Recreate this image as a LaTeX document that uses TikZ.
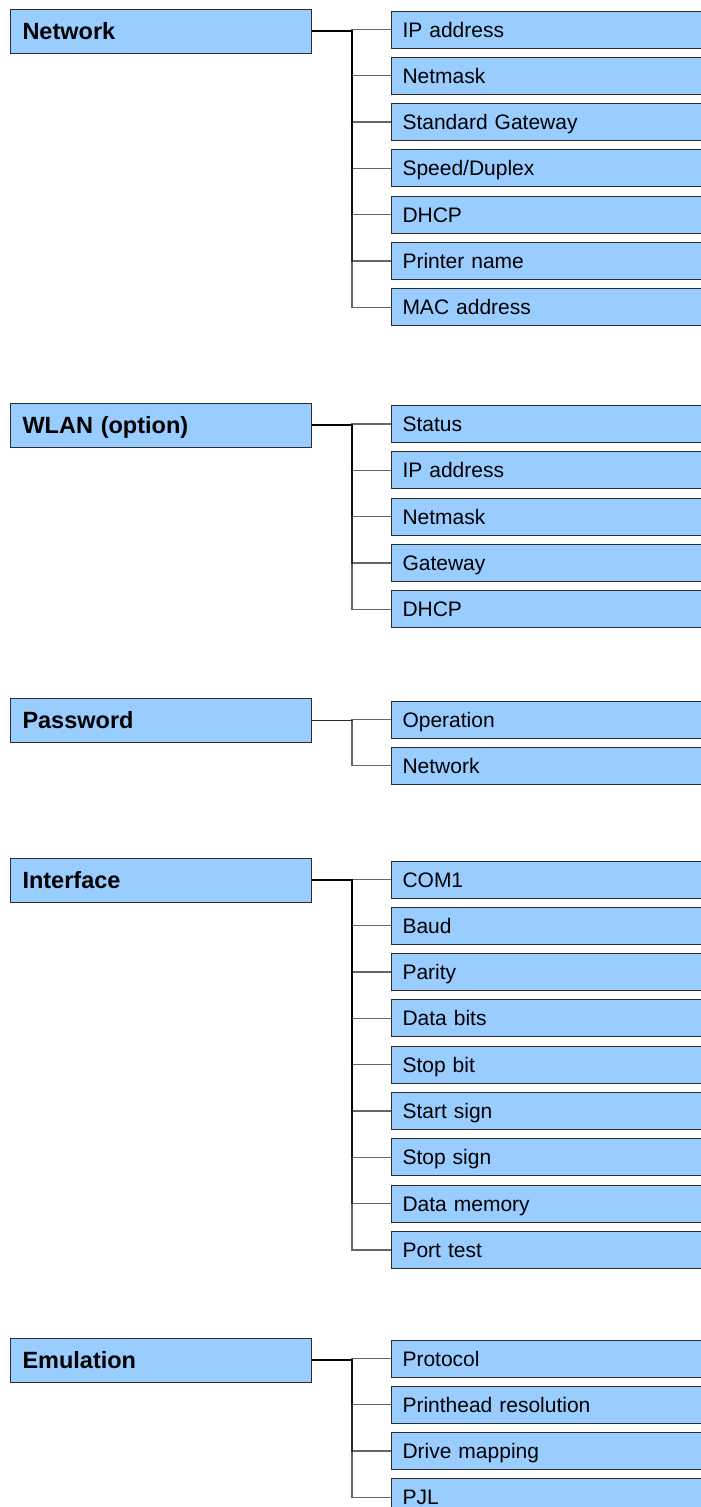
\documentclass[tikz,border=0pt]{standalone}
\usepackage{fontspec}
\setmainfont{Liberation Sans}
\usepackage{tikz}
\definecolor{menublue}{RGB}{153,204,255}
\definecolor{menuedge}{RGB}{45,45,45}

\begin{document}
\begin{tikzpicture}[x=1pt,y=-1pt,
        parentbox/.style={draw=menuedge,fill=menublue,line width=1pt,anchor=west,
            minimum height=44pt,text width=277pt,inner xsep=12pt,align=left,
            text height=19pt,text depth=2.2pt,
            font=\fontsize{23.5}{26}\selectfont\bfseries},
        childbox/.style={draw=menuedge,fill=menublue,line width=1pt,anchor=west,
            minimum height=37pt,text width=310pt,inner xsep=11pt,align=left,
            text height=18pt,text depth=3pt,
            font=\fontsize{21}{24}\selectfont},
        link/.style={draw=black,draw opacity=.6,line width=1.3pt}]
        \useasboundingbox (0,0) rectangle (701,1507);

        % Network
        \node[parentbox] (net) at (10,31) {Network};
        \node[childbox] (net1) at (391,29.5) {IP address};
        \node[childbox] (net2) at (391,75.8) {Netmask};
        \node[childbox] (net3) at (391,122.1) {Standard Gateway};
        \node[childbox] (net4) at (391,168.4) {Speed/Duplex};
        \node[childbox] (net5) at (391,214.7) {DHCP};
        \node[childbox] (net6) at (391,261) {Printer name};
        \node[childbox] (net7) at (391,307.3) {MAC address};
        \foreach \i in {1,...,7}
            \draw[link] (net.east) -- ++(40,0) |- (net\i.west);

        % WLAN
        \node[parentbox] (wlan) at (10,425) {WLAN (option)};
        \node[childbox] (wlan1) at (391,424) {Status};
        \node[childbox] (wlan2) at (391,470.3) {IP address};
        \node[childbox] (wlan3) at (391,516.6) {Netmask};
        \node[childbox] (wlan4) at (391,562.9) {Gateway};
        \node[childbox] (wlan5) at (391,609.2) {DHCP};
        \foreach \i in {1,...,5}
            \draw[link] (wlan.east) -- ++(40,0) |- (wlan\i.west);

        % Password
        \node[parentbox] (pwd) at (10,720.5) {Password};
        \node[childbox] (pwd1) at (391,719.5) {Operation};
        \node[childbox] (pwd2) at (391,765.8) {Network};
        \foreach \i in {1,2}
            \draw[link] (pwd.east) -- ++(40,0) |- (pwd\i.west);

        % Interface
        \node[parentbox] (intf) at (10,880) {Interface};
        \node[childbox] (intf1) at (391,879.5) {COM1};
        \node[childbox] (intf2) at (391,925.8) {Baud};
        \node[childbox] (intf3) at (391,972.1) {Parity};
        \node[childbox] (intf4) at (391,1018.4) {Data bits};
        \node[childbox] (intf5) at (391,1064.7) {Stop bit};
        \node[childbox] (intf6) at (391,1111) {Start sign};
        \node[childbox] (intf7) at (391,1157.3) {Stop sign};
        \node[childbox] (intf8) at (391,1203.6) {Data memory};
        \node[childbox] (intf9) at (391,1249.9) {Port test};
        \foreach \i in {1,...,9}
            \draw[link] (intf.east) -- ++(40,0) |- (intf\i.west);

        % Emulation
        \node[parentbox] (emu) at (10,1360) {Emulation};
        \node[childbox] (emu1) at (391,1358.5) {Protocol};
        \node[childbox] (emu2) at (391,1404.8) {Printhead resolution};
        \node[childbox] (emu3) at (391,1451.1) {Drive mapping};
        \node[childbox] (emu4) at (391,1497.4) {PJL};
        \foreach \i in {1,...,4}
            \draw[link] (emu.east) -- ++(40,0) |- (emu\i.west);
\end{tikzpicture}
\end{document}
